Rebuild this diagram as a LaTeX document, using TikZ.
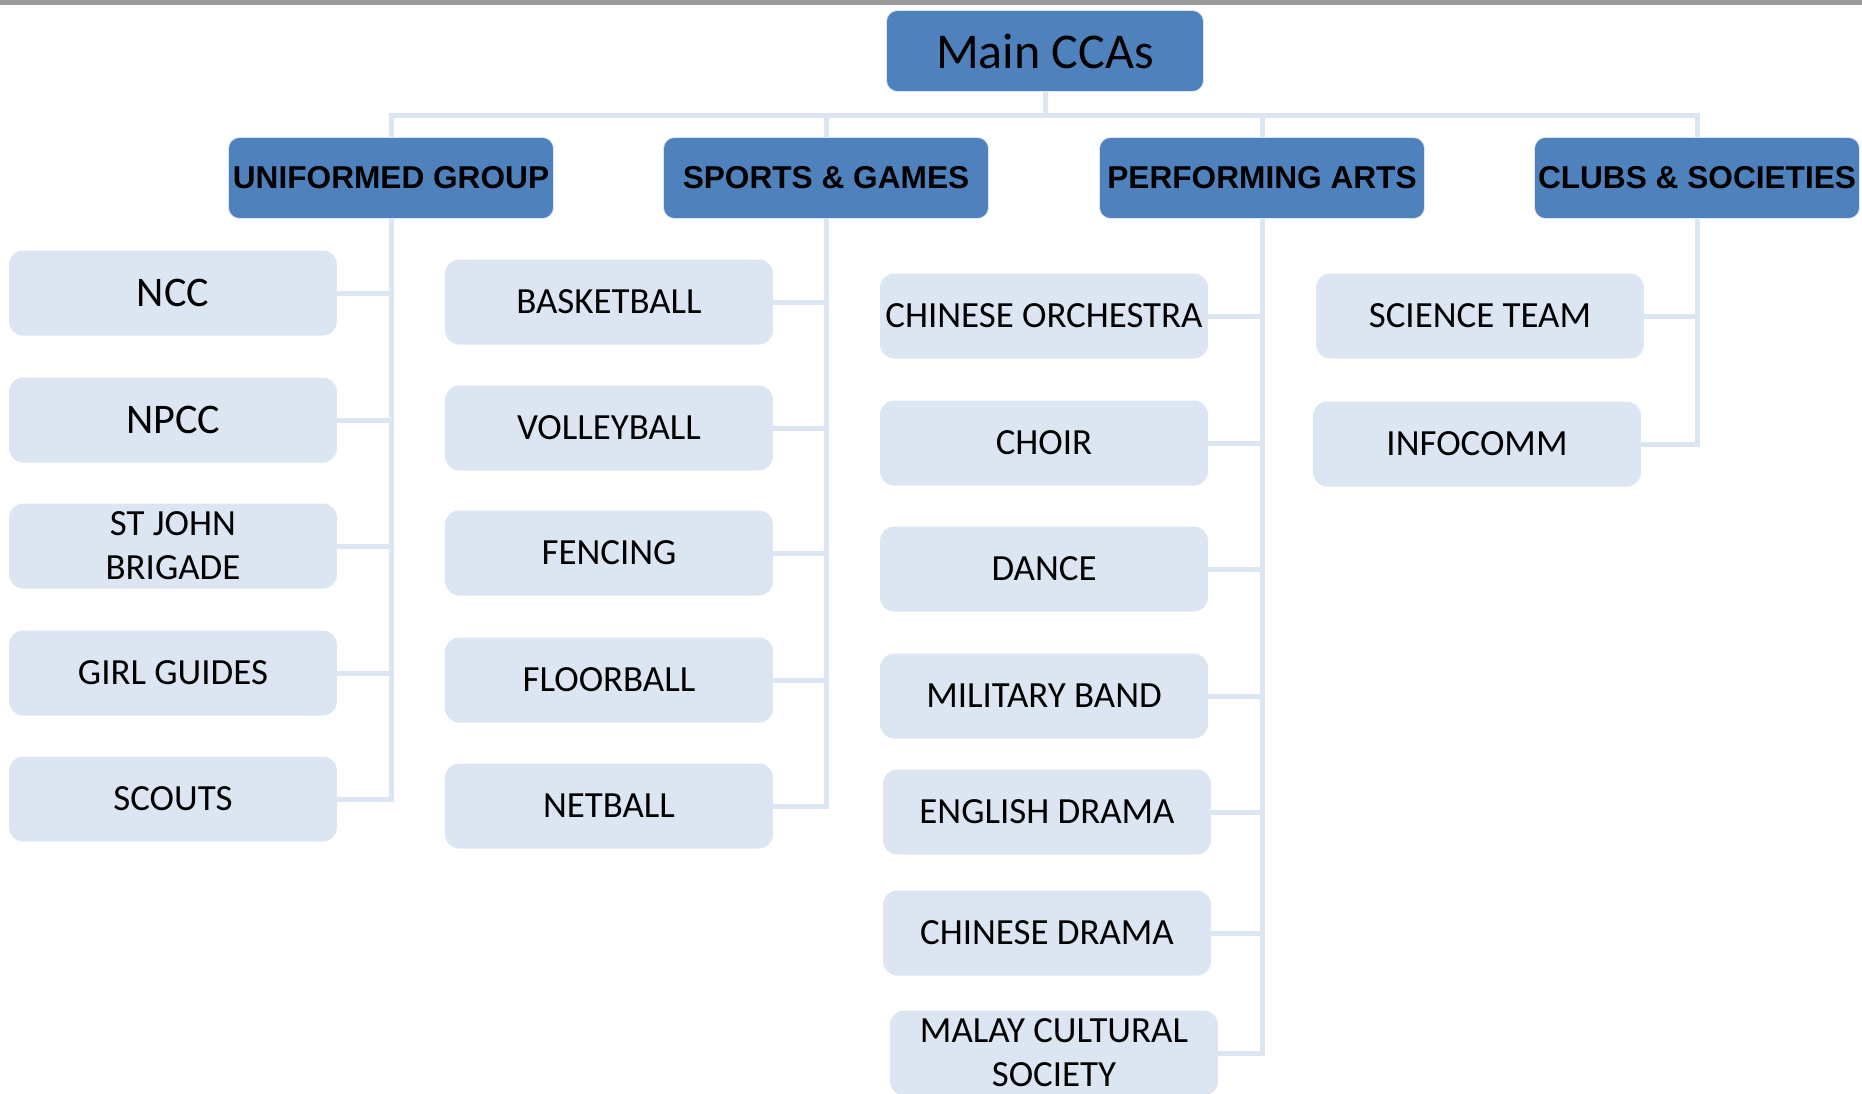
\documentclass[tikz,border=0pt]{standalone}
\usepackage{fontspec}
\setmainfont{Carlito}
\newfontfamily\headfont{Liberation Sans}
\usepackage{tikz}

\definecolor{ccablue}{HTML}{4F81BD}
\definecolor{ccalight}{HTML}{DCE6F2}

\begin{document}
\begin{tikzpicture}[x=0.02cm, y=-0.02cm]
    \tikzstyle{mainbox} = [
        fill=ccablue,
        draw=ccalight,
        rounded corners=0.22cm,
        minimum width=6.34cm,
        minimum height=1.62cm,
        inner sep=0pt,
        font=\fontsize{28.5}{32}\selectfont
    ]
    \tikzstyle{groupbox} = [
        fill=ccablue,
        draw=ccalight,
        rounded corners=0.22cm,
        minimum width=6.5cm,
        minimum height=1.62cm,
        inner sep=0pt,
        font=\headfont\bfseries\fontsize{18}{20}\selectfont
    ]
    \tikzstyle{ccabox} = [
        fill=ccalight,
        rounded corners=0.28cm,
        minimum width=6.56cm,
        minimum height=1.7cm,
        inner sep=0pt,
        align=center,
        font=\fontsize{21}{25}\selectfont
    ]
    \tikzstyle{bigtext} = [font=\fontsize{24}{28}\selectfont]
    \tikzstyle{link} = [draw=ccalight, line width=0.1cm]

    \useasboundingbox (0,0) rectangle (1862,1093);
    \fill[gray!80] (0,0) rectangle (1862,5);

    \node[mainbox] (main) at (1045, 51) {Main CCAs};

    \node[groupbox] (ug) at (391, 178) {UNIFORMED GROUP};
    \node[groupbox] (sg) at (826, 178) {SPORTS \& GAMES};
    \node[groupbox] (pa) at (1262, 178) {PERFORMING ARTS};
    \node[groupbox] (cs) at (1697, 178) {CLUBS \& SOCIETIES};

    % uniformed group
    \node[ccabox, bigtext] (ncc) at (173, 293) {NCC};
    \node[ccabox, bigtext] (npcc) at (173, 420) {NPCC};
    \node[ccabox] (sjb) at (173, 546) {ST JOHN\\BRIGADE};
    \node[ccabox] (gg) at (173, 673) {GIRL GUIDES};
    \node[ccabox] (scouts) at (173, 799) {SCOUTS};

    % sports and games
    \node[ccabox] (bb) at (609, 302) {BASKETBALL};
    \node[ccabox] (vb) at (609, 428) {VOLLEYBALL};
    \node[ccabox] (fen) at (609, 553) {FENCING};
    \node[ccabox] (fb) at (609, 680) {FLOORBALL};
    \node[ccabox] (nb) at (609, 806) {NETBALL};

    % performing arts
    \node[ccabox] (co) at (1044, 316) {CHINESE ORCHESTRA};
    \node[ccabox] (choir) at (1044, 443) {CHOIR};
    \node[ccabox] (dance) at (1044, 569) {DANCE};
    \node[ccabox] (mb) at (1044, 696) {MILITARY BAND};
    \node[ccabox] (ed) at (1047, 812) {ENGLISH DRAMA};
    \node[ccabox] (cd) at (1047, 933) {CHINESE DRAMA};
    \node[ccabox] (mcs) at (1054, 1053) {MALAY CULTURAL\\SOCIETY};

    % clubs and societies
    \node[ccabox] (st) at (1480, 316) {SCIENCE TEAM};
    \node[ccabox] (ic) at (1477, 444) {INFOCOMM};

    % main -> groups
    \draw[link] (main.south) -- ++(0,24) coordinate (bar);
    \draw[link] (ug.north) |- (bar) -| (cs.north);
    \draw[link] (sg.north) -- (sg.north |- bar);
    \draw[link] (pa.north) -- (pa.north |- bar);

    % groups -> CCAs
    \foreach \cca in {ncc, npcc, sjb, gg, scouts}
        \draw[link] (ug.south) |- (\cca);
    \foreach \cca in {bb, vb, fen, fb, nb}
        \draw[link] (sg.south) |- (\cca);
    \foreach \cca in {co, choir, dance, mb, ed, cd, mcs}
        \draw[link] (pa.south) |- (\cca);
    \foreach \cca in {st, ic}
        \draw[link] (cs.south) |- (\cca);
\end{tikzpicture}
\end{document}
